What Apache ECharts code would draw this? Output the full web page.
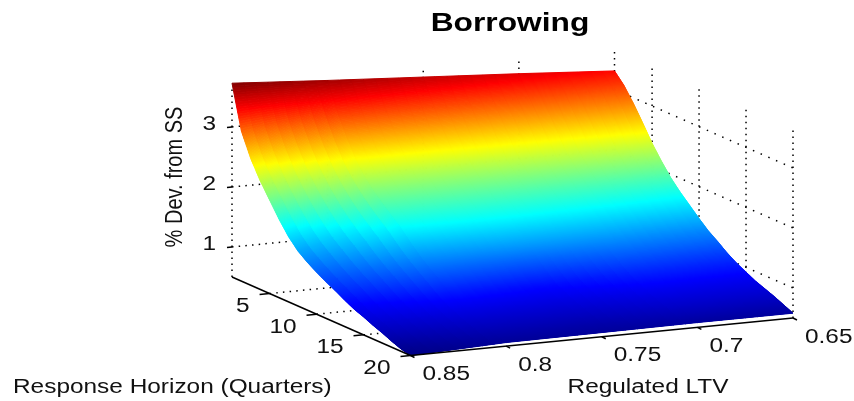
<!DOCTYPE html>
<html><head><meta charset="utf-8">
<style>html,body{margin:0;padding:0;background:#fff}#c{width:854px;height:401px;filter:blur(0.5px)}</style>
<script src="https://cdn.jsdelivr.net/npm/echarts@6/dist/echarts.min.js"></script>
</head><body><div id="c"></div>
<script>
// ---- data ----
const ltvValues = [0.85, 0.8, 0.75, 0.7, 0.65];
const horizonValues = [1,2,3,4,5,6,7,8,9,10,11,12,13,14,15,16,17,18,19,20];
const devLtv85 = [3.73,3.00,2.61,2.31,2.06,1.81,1.59,1.42,1.30,1.20,1.11,1.03,0.94,0.86,0.80,0.73,0.67,0.60,0.54,0.50];
const devLtv80 = [3.62,3.20,2.84,2.53,2.30,2.12,1.97,1.83,1.69,1.52,1.37,1.24,1.12,0.99,0.89,0.81,0.74,0.68,0.62,0.56];
const devLtv75 = [3.52,3.17,2.84,2.54,2.30,2.12,1.97,1.83,1.71,1.55,1.40,1.22,1.07,0.93,0.86,0.79,0.73,0.67,0.61,0.57];
const devLtv70 = [3.42,3.14,2.87,2.58,2.33,2.13,1.96,1.82,1.68,1.53,1.39,1.26,1.14,1.03,0.94,0.86,0.79,0.73,0.66,0.58];
const devLtv65 = [3.31,3.14,2.91,2.65,2.38,2.15,1.94,1.77,1.62,1.47,1.33,1.22,1.10,1.00,0.92,0.84,0.78,0.72,0.65,0.58];
const devRows = [devLtv85, devLtv80, devLtv75, devLtv70, devLtv65];
const zTicks = [1, 2, 3];
const horizonTicks = [5, 10, 15, 20];
const ltvTicks = [0.85, 0.8, 0.75, 0.7, 0.65];
const ltvTickLabels = ['0.85', '0.8', '0.75', '0.7', '0.65'];
const chartTitle = 'Borrowing';
const zTitle = '% Dev. from SS';
const horizonTitle = 'Response Horizon (Quarters)';
const ltvTitle = 'Regulated LTV';
const jet = [[0,0,0,135],[0.125,0,0,255],[0.375,0,255,255],[0.625,255,255,0],[0.875,255,0,0],[1,128,0,0]];

// ---- view of the 3D box ----
const LTV_MAX = 0.85, LTV_SPAN = 0.2, H_MIN = 1, H_SPAN = 19, Z_FLOOR = 0.5, Z_TOP = 3.68;
const O = [232, 277], VL = [382.5, -37.5], VH = [178.5, 78.5], ZS = 60;
const COL_MIN = 0.5, COL_MAX = 3.73;
function proj(ltv, h, z) {
  const t = (LTV_MAX - ltv) / LTV_SPAN, s = (h - H_MIN) / H_SPAN;
  return [O[0] + VL[0]*t + VH[0]*s, O[1] + VL[1]*t + VH[1]*s - (z - Z_FLOOR)*ZS];
}
function jetColor(z) {
  const v = Math.max(0, Math.min(1, (z - COL_MIN) / (COL_MAX - COL_MIN)));
  for (let i = 1; i < jet.length; i++) {
    if (v <= jet[i][0]) {
      const a = jet[i-1], b = jet[i], f = (v - a[0]) / (b[0] - a[0]);
      return 'rgb(' + [1,2,3].map(k => Math.round(a[k] + (b[k]-a[k])*f)).join(',') + ')';
    }
  }
  return 'rgb(128,0,0)';
}

// ---- surface cells ----
const cells = [];
for (let i = 0; i < ltvValues.length - 1; i++)
  for (let j = 0; j < horizonValues.length - 1; j++) cells.push([i, j]);
const SUB_L = 8, SUB_H = 20;
function renderCell(params, api) {
  const i = api.value(0), j = api.value(1);
  const l0 = ltvValues[i], l1 = ltvValues[i+1], h0 = horizonValues[j], h1 = horizonValues[j+1];
  const z00 = devRows[i][j], z01 = devRows[i][j+1], z10 = devRows[i+1][j], z11 = devRows[i+1][j+1];
  const P = (u, v) => {
    const z = (1-u)*(1-v)*z00 + (1-u)*v*z01 + u*(1-v)*z10 + u*v*z11;
    return {p: api.coord(proj(l0 + (l1-l0)*u, h0 + (h1-h0)*v, z)), z};
  };
  const children = [];
  for (let a = 0; a < SUB_L; a++) for (let b = 0; b < SUB_H; b++) {
    const A = P(a/SUB_L, b/SUB_H), B = P((a+1)/SUB_L, b/SUB_H), C = P((a+1)/SUB_L, (b+1)/SUB_H), D = P(a/SUB_L, (b+1)/SUB_H);
    const col = jetColor((A.z + B.z + C.z + D.z) / 4);
    children.push({type:'polygon', shape:{points:[A.p,B.p,C.p,D.p]}, style:{fill:col, stroke:col, lineWidth:1}});
  }
  return {type:'group', children};
}

// ---- box lines ----
const LTV_L = ltvTicks[0], LTV_R = ltvTicks[4], H_L = H_MIN, H_R = horizonTicks[3];
const dotted = [];
ltvTicks.forEach(l => dotted.push({a:[l,H_L,Z_FLOOR], b:[l,H_L,Z_TOP], gap:4.5}));
horizonTicks.forEach(h => dotted.push({a:[LTV_R,h,Z_FLOOR], b:[LTV_R,h,Z_TOP], gap:4.5}));
zTicks.forEach(z => {
  dotted.push({a:[LTV_L,H_L,z], b:[LTV_R,H_L,z], gap:5.2});
  dotted.push({a:[LTV_R,H_L,z], b:[LTV_R,H_R,z], gap:6.9});
});
horizonTicks.slice(0,3).forEach(h => dotted.push({a:[LTV_L,h,Z_FLOOR], b:[LTV_R,h,Z_FLOOR], gap:5.2}));
const solid = [
  [proj(LTV_L,H_L,Z_FLOOR), proj(LTV_L,H_R,Z_FLOOR)],
  [proj(LTV_L,H_R,Z_FLOOR), proj(LTV_R,H_R,Z_FLOOR)]
];
zTicks.forEach(z => { const p = proj(LTV_L,H_L,z); solid.push([p,[p[0]-5,p[1]+0.5]]); });
horizonTicks.forEach(h => { const p = proj(LTV_L,h,Z_FLOOR); solid.push([p,[p[0]-10,p[1]+1]]); });
ltvTicks.forEach(l => { const p = proj(l,H_R,Z_FLOOR); solid.push([p,[p[0]+4,p[1]+2]]); });

function renderDotted(params, api) {
  const seg = dotted[params.dataIndex], a = api.coord(proj(...seg.a)), b = api.coord(proj(...seg.b));
  return {type:'line', shape:{x1:a[0],y1:a[1],x2:b[0],y2:b[1]},
    style:{stroke:'#000', lineWidth:1.5, lineDash:[1.5,seg.gap], fill:null}};
}
function renderSolid(params, api) {
  const seg = solid[params.dataIndex], a = api.coord(seg[0]), b = api.coord(seg[1]);
  return {type:'line', shape:{x1:a[0],y1:a[1],x2:b[0],y2:b[1]}, style:{stroke:'#000', lineWidth:1.5, fill:null}};
}

// ---- text ----
const FS = 20, SX = 1.22, TXT = '#111', FF = '"Liberation Sans", Arial, sans-serif';
const texts = [];
zTicks.forEach(z => { const p = proj(LTV_L,H_L,z); texts.push({t:String(z), x:216, y:p[1]-3, a:'right'}); });
horizonTicks.forEach(h => { const p = proj(LTV_L,h,Z_FLOOR); texts.push({t:String(h), x:p[0]-20, y:p[1]+13, a:'right'}); });
ltvTicks.forEach((l,i) => { const p = proj(l,H_R,Z_FLOOR); texts.push({t:ltvTickLabels[i], x:p[0]+12, y:p[1]+19, a:'left'}); });
texts.push({t:horizonTitle, x:13, y:387, a:'left'});
texts.push({t:ltvTitle, x:648, y:387, a:'center'});
texts.push({t:zTitle, x:175, y:177, a:'center', rot:Math.PI/2});
texts.push({t:chartTitle, x:510, y:24, a:'center', fs:25, bold:true, sx:1.27, fill:'#000'});
function renderText(params, api) {
  const d = texts[params.dataIndex], c = api.coord([d.x, d.y]);
  const el = {type:'text', x:c[0], y:c[1], rotation:d.rot||0,
    style:{text:d.t, fill:d.fill||TXT, fontFamily:FF, fontSize:d.fs||FS, fontWeight:d.bold?'bold':'normal', textAlign:d.a, textVerticalAlign:'middle'}};
  if (d.rot) { el.scaleY = SX; } else { el.scaleX = d.sx||SX; }
  return el;
}

const chart = echarts.init(document.getElementById('c'), null, {renderer:'canvas'});
chart.setOption({
  animation:false,
  backgroundColor:'#fff',
  grid:{left:0, right:0, top:0, bottom:0},
  xAxis:{type:'value', min:0, max:854, show:false},
  yAxis:{type:'value', min:0, max:401, inverse:true, show:false},
  tooltip:{show:false},
  series:[
    {type:'custom', name:'grid', coordinateSystem:'cartesian2d', renderItem:renderDotted, data:dotted.map((_,i)=>[i]), clip:false, silent:true, z:1},
    {type:'custom', name:'Borrowing', coordinateSystem:'cartesian2d', renderItem:renderCell, data:cells, clip:false, silent:true, z:2},
    {type:'custom', name:'axes', coordinateSystem:'cartesian2d', renderItem:renderSolid, data:solid.map((_,i)=>[i]), clip:false, silent:true, z:3},
    {type:'custom', name:'text', coordinateSystem:'cartesian2d', renderItem:renderText, data:texts.map((_,i)=>[i]), clip:false, silent:true, z:4}
  ]
});
</script></body></html>
